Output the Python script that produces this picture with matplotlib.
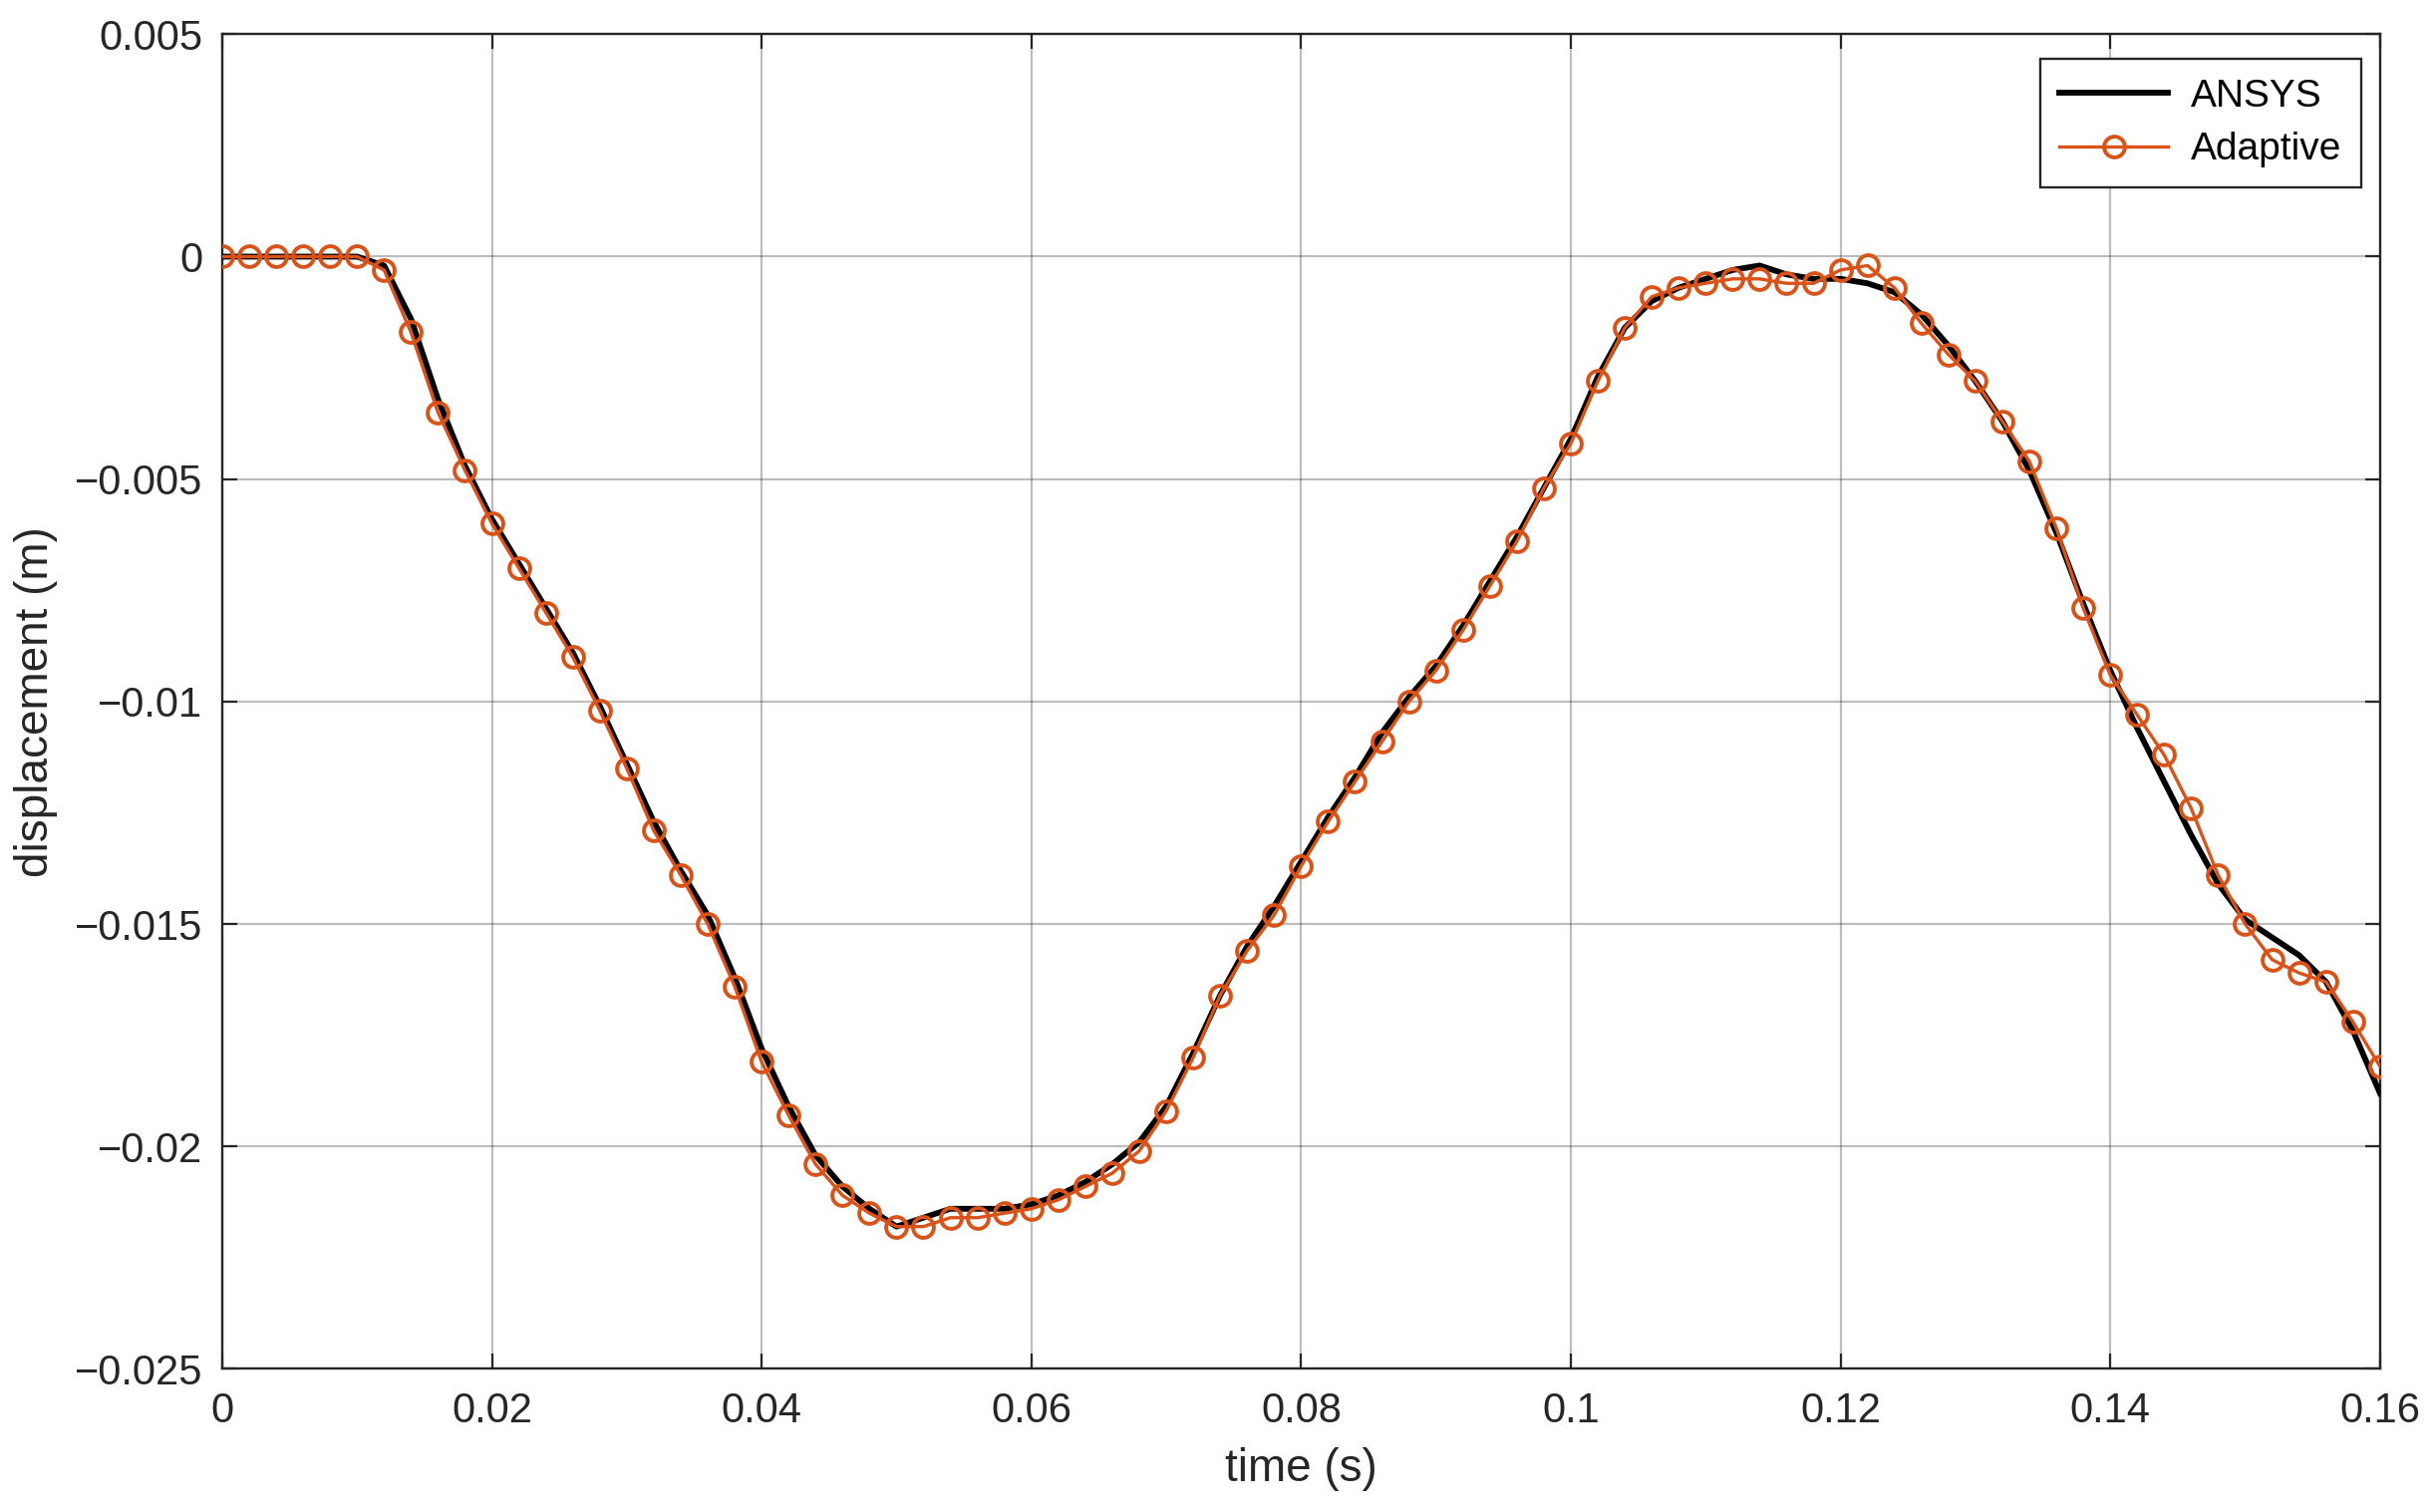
import numpy as np
import matplotlib
matplotlib.use("Agg")
import matplotlib.pyplot as plt
from matplotlib.ticker import FuncFormatter

plt.rcParams['font.family'] = ['Liberation Sans', 'DejaVu Sans']

# time grid shared by both series (s)
t = np.arange(81) * 0.002

# Adaptive solution (markers), displacement in m
adaptive = [0, 0, 0, 0, 0, 0,
            -0.0003, -0.0017, -0.0035, -0.0048, -0.0060, -0.0070, -0.0080, -0.0090,
            -0.0102, -0.0115, -0.0129, -0.0139, -0.0150, -0.0164, -0.0181, -0.0193,
            -0.0204, -0.0211, -0.0215, -0.0218, -0.0218, -0.0216, -0.0216, -0.0215,
            -0.0214, -0.0212, -0.0209, -0.0206, -0.0201, -0.0192, -0.0180, -0.0166,
            -0.0156, -0.0148, -0.0137, -0.0127, -0.0118, -0.0109, -0.0100, -0.0093,
            -0.0084, -0.0074, -0.0064, -0.0052, -0.0042, -0.0028, -0.0016, -0.0009,
            -0.0007, -0.0006, -0.0005, -0.0005, -0.0006, -0.0006, -0.0003, -0.0002,
            -0.0007, -0.0015, -0.0022, -0.0028, -0.0037, -0.0046, -0.0061, -0.0079,
            -0.0094, -0.0103, -0.0112, -0.0124, -0.0139, -0.0150, -0.0158, -0.0161,
            -0.0163, -0.0172, -0.0182]

# ANSYS reference solution
ansys = [0, 0, 0, 0, 0, 0,
         -0.0002, -0.0014, -0.0032, -0.0047, -0.0059, -0.0069, -0.0079, -0.0089,
         -0.0101, -0.0114, -0.0127, -0.0138, -0.0148, -0.0162, -0.0178, -0.0191,
         -0.0202, -0.0209, -0.0214, -0.0218, -0.0216, -0.0214, -0.0214, -0.0214,
         -0.0213, -0.0211, -0.0208, -0.0204, -0.0199, -0.0191, -0.0179, -0.0166,
         -0.0155, -0.0146, -0.0136, -0.0126, -0.0117, -0.0107, -0.0099, -0.0092,
         -0.0083, -0.0073, -0.0063, -0.0052, -0.0041, -0.0027, -0.0016, -0.0010,
         -0.0007, -0.0005, -0.0003, -0.0002, -0.0004, -0.0005, -0.0005, -0.0006,
         -0.0008, -0.0013, -0.0020, -0.0028, -0.0037, -0.0048, -0.0062, -0.0078,
         -0.0093, -0.0106, -0.0118, -0.0130, -0.0141, -0.0149, -0.0153, -0.0157,
         -0.0163, -0.0174, -0.0188]

xticks = [0, 0.02, 0.04, 0.06, 0.08, 0.1, 0.12, 0.14, 0.16]
yticks = [0.005, 0, -0.005, -0.01, -0.015, -0.02, -0.025]

fig = plt.figure(figsize=(24.44, 15.17), dpi=100)
ax = fig.add_axes([0.0912, 0.0946, 0.8858, 0.8828])

ax.plot(t, ansys, color="black", lw=4.2, label="ANSYS", zorder=3)
ax.plot(t, adaptive, color="#D95319", lw=2.4, marker="o", ms=15,
        mfc="none", mec="#D95319", mew=2.8, label="Adaptive", zorder=4)

ax.set_xlim(0, 0.16)
ax.set_ylim(-0.025, 0.005)
ax.set_xticks(xticks)
ax.set_yticks(yticks)
fmt = FuncFormatter(lambda v, p: ("%g" % round(v, 6)).replace("-", "\u2212"))
ax.xaxis.set_major_formatter(fmt)
ax.yaxis.set_major_formatter(fmt)

ax.grid(True, color="#262626", alpha=0.3, lw=1.6)
ax.set_axisbelow(True)
ax.tick_params(direction="in", top=True, right=True, length=11, width=1.6,
               labelsize=30, colors="#262626")
ax.tick_params(axis="y", pad=14)
ax.tick_params(axis="x", pad=16)
for s in ax.spines.values():
    s.set_color("#262626")
    s.set_linewidth(1.7)

ax.set_xlabel("time (s)", fontsize=33, color="#262626", labelpad=12)
ax.set_ylabel("displacement (m)", fontsize=33, color="#262626", labelpad=12)

leg = ax.legend(loc="upper right", fontsize=28, fancybox=False, framealpha=1,
                edgecolor="#262626", handlelength=2.8, handletextpad=0.6,
                borderpad=0.5, labelspacing=0.45, borderaxespad=0,
                bbox_to_anchor=(0.9914, 0.9814))
leg.get_frame().set_linewidth(1.7)

fig.savefig("out.png", dpi=100)
